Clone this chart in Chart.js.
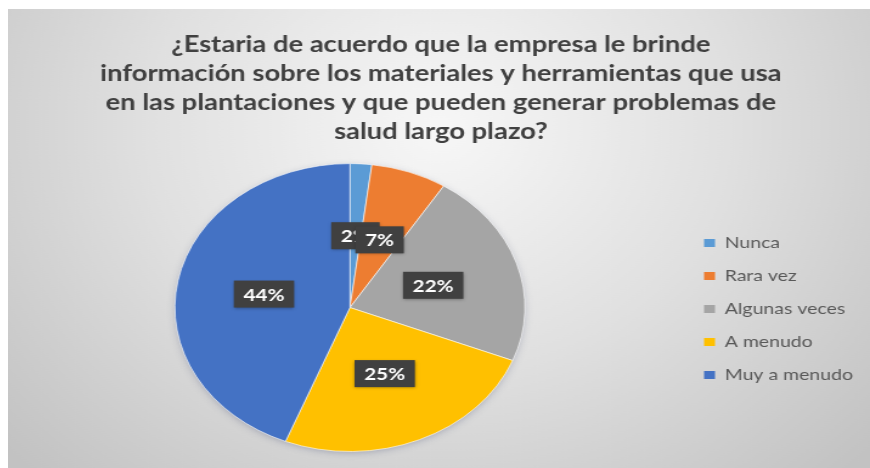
<!DOCTYPE html>
<html>
<head>
<meta charset="utf-8">
<script src="https://cdn.jsdelivr.net/npm/chart.js@4/dist/chart.umd.min.js"></script>
<style>
    body { margin: 0; background: #fff; }
    #wrap {
        position: absolute;
        left: 8px;
        top: 9px;
        width: 709px;
        height: 459px;
        /* the chart is drawn narrow and widened, so the pie comes out oval */
        transform: scaleX(1.2158);
        transform-origin: 0 0;
    }
</style>
</head>
<body>
<div id="wrap"><canvas id="pie_respuestas" width="709" height="459"></canvas></div>
<script>
const categorias = ['Nunca', 'Rara vez', 'Algunas veces', 'A menudo', 'Muy a menudo'];
const porcentajes = [2, 7, 22, 25, 44];
const colores = ['#5B9BD5', '#ED7D31', '#A5A5A5', '#FFC000', '#4472C4'];
const titulo = [
    '¿Estaria de acuerdo que la empresa le brinde',
    'información sobre los materiales y herramientas que usa',
    'en las plantaciones y que pueden generar problemas de',
    'salud largo plazo?'
];

// grey radial background behind everything
const fondo = {
    id: 'fondo',
    beforeDraw(chart) {
        const ctx = chart.ctx;
        const g = ctx.createRadialGradient(354, 120, 0, 354, 120, 480);
        g.addColorStop(0, '#f7f7f7');
        g.addColorStop(0.5, '#e0e0e0');
        g.addColorStop(1, '#c2c2c2');
        ctx.save();
        ctx.fillStyle = g;
        ctx.fillRect(0, 0, chart.width, chart.height);
        ctx.restore();
    }
};

// soft shadow under the whole pie
const sombra = {
    id: 'sombra',
    beforeDatasetsDraw(chart) {
        const arc = chart.getDatasetMeta(0).data[0];
        if (!arc) return;
        const ctx = chart.ctx;
        ctx.save();
        ctx.shadowColor = 'rgba(60,70,110,0.35)';
        ctx.shadowBlur = 7;
        ctx.shadowOffsetY = 2;
        ctx.fillStyle = '#cfcfcf';
        ctx.beginPath();
        ctx.arc(arc.x, arc.y, arc.outerRadius - 1, 0, Math.PI * 2);
        ctx.fill();
        ctx.restore();
    }
};

// dark boxes with the percentage in the middle of each slice
const etiquetas = {
    id: 'etiquetas',
    afterDatasetsDraw(chart) {
        const ctx = chart.ctx;
        const meta = chart.getDatasetMeta(0);
        ctx.save();
        ctx.font = 'bold 17px Lato';
        ctx.textAlign = 'center';
        ctx.textBaseline = 'middle';
        meta.data.forEach((arc, i) => {
            const p = arc.getCenterPoint();
            const txt = chart.data.datasets[0].data[i] + '%';
            const w = ctx.measureText(txt).width + 16;
            const h = 27;
            ctx.shadowColor = 'rgba(0,0,0,0.35)';
            ctx.shadowBlur = 3;
            ctx.shadowOffsetY = 1;
            ctx.fillStyle = '#404040';
            ctx.fillRect(p.x - w / 2, p.y - h / 2, w, h);
            ctx.shadowColor = 'transparent';
            ctx.fillStyle = '#ffffff';
            ctx.fillText(txt, p.x, p.y + 1);
        });
        ctx.restore();
    }
};

new Chart(
    document.getElementById('pie_respuestas'),
    {
        type: 'pie',
        plugins: [fondo, sombra, etiquetas],
        data: {
            labels: categorias,
            datasets: [{
                data: porcentajes,
                backgroundColor: colores,
                borderColor: 'rgba(255,255,255,0.6)',
                borderWidth: 1,
                hoverOffset: 0
            }]
        },
        options: {
            responsive: false,
            animation: false,
            layout: {
                padding: { left: 7, right: 4, top: 0, bottom: 16 }
            },
            plugins: {
                title: {
                    display: true,
                    text: titulo,
                    color: '#404040',
                    font: { family: 'Lato', weight: 'bold', size: 22.5, lineHeight: 1.29 },
                    padding: { top: 21, bottom: 17 }
                },
                legend: {
                    position: 'right',
                    maxWidth: 150,
                    // empty title only pushes the items down to the pie's middle
                    title: {
                        display: true,
                        text: ' ',
                        font: { size: 12, lineHeight: 1 },
                        padding: { top: 145, bottom: 0 }
                    },
                    labels: {
                        color: '#595959',
                        font: { family: 'Lato', size: 16 },
                        boxWidth: 9,
                        boxHeight: 8,
                        padding: 17,
                        generateLabels: chart =>
                            Chart.overrides.pie.plugins.legend.labels.generateLabels(chart)
                                .map(l => ({ ...l, lineWidth: 0 }))
                    }
                },
                tooltip: { enabled: false }
            }
        }
    }
);
</script>
</body>
</html>
